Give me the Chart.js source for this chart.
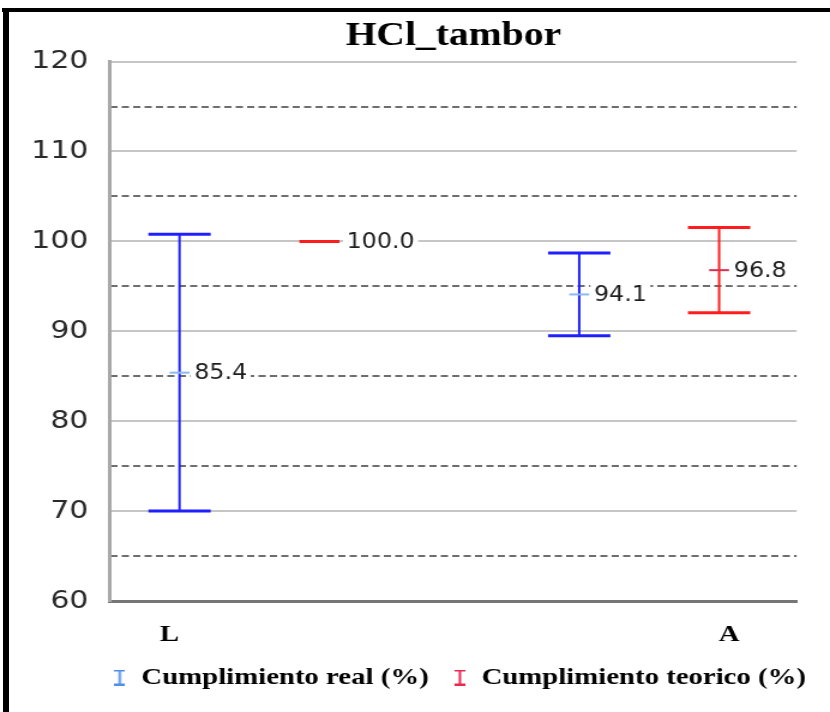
<!DOCTYPE html>
<html><head><meta charset="utf-8">
<script src="https://cdn.jsdelivr.net/npm/chart.js@4/dist/chart.umd.min.js"></script>
<style>
html,body{margin:0;padding:0;background:#fff;overflow:hidden;}
#wrap{position:absolute;left:0;top:0;width:692px;height:712px;transform:scaleX(1.1994);transform-origin:0 0;}
#frameTop{position:absolute;left:2px;top:8px;width:828px;height:4px;background:#000;}
#frameLeft{position:absolute;left:3px;top:8px;width:6px;height:704px;background:#000;}
</style></head><body>
<div id="wrap"><canvas id="c" width="692" height="712"></canvas></div>
<div id="frameTop"></div><div id="frameLeft"></div>
<script>
// ---- data ----
const categories = ['L', 'A'];
const seriesNames = ['Cumplimiento real (%)', 'Cumplimiento teorico (%)'];
const realValues = [85.4, 94.1];
const realErrors = [15.4, 4.6];
const theoValues = [100.0, 96.8];
const theoErrors = [0, 4.75];
const yMajorTicks = [60, 70, 80, 90, 100, 110, 120];
const yMinorTicks = [65, 75, 85, 95, 105, 115];
const chartTitle = 'HCl_tambor';

// ---- styles ----
const seriesStyles = [
  { offset: -0.175, color: '#1f1fff', meanColor: '#8ab8f2', iconColor: '#4f8fe6' },
  { offset: 0.175, color: '#ff1c1c', meanColor: '#d8304f', iconColor: '#e8284f' }
];
const capHalf = 26, meanHalf = 8.3, zeroHalf = 16.7;

function makeIcon(color) {
  const c = document.createElement('canvas');
  c.width = 9; c.height = 16;
  const g = c.getContext('2d');
  g.fillStyle = color;
  g.fillRect(3.5, 0, 2, 16);
  g.fillRect(0, 0, 9, 2);
  g.fillRect(0, 14, 9, 2);
  return c;
}
const icons = seriesStyles.map(s => makeIcon(s.iconColor));

const errorBarPlugin = {
  id: 'errorBars',
  afterDatasetsDraw(chart) {
    const { ctx } = chart;
    const x = chart.scales.x, y = chart.scales.y;
    const line = (x1, y1, x2, y2) => { ctx.beginPath(); ctx.moveTo(x1, y1); ctx.lineTo(x2, y2); ctx.stroke(); };
    chart.data.datasets.forEach((ds, di) => {
      const st = seriesStyles[di];
      ds.data.forEach(pt => {
        const cx = x.getPixelForValue(pt.x + st.offset);
        const yMid = y.getPixelForValue(pt.y);
        const yHi = y.getPixelForValue(pt.y + pt.err);
        const yLo = y.getPixelForValue(pt.y - pt.err);
        ctx.save();
        if (pt.err > 0) {
          ctx.strokeStyle = st.color; ctx.lineWidth = 2;
          line(cx, yHi, cx, yLo);
          ctx.lineWidth = 3;
          line(cx - capHalf, yHi, cx + capHalf, yHi);
          line(cx - capHalf, yLo, cx + capHalf, yLo);
          ctx.strokeStyle = st.meanColor; ctx.lineWidth = 2;
          line(cx - meanHalf, yMid, cx + meanHalf, yMid);
        } else {
          ctx.strokeStyle = st.color; ctx.lineWidth = 3;
          line(cx - zeroHalf, yMid, cx + zeroHalf, yMid);
        }
        const text = pt.y.toFixed(1);
        ctx.font = '22px "DejaVu Sans Condensed", "DejaVu Sans"';
        const tw = ctx.measureText(text).width;
        const tx = cx + (pt.err > 0 ? meanHalf + 4 : zeroHalf + 6);
        ctx.fillStyle = '#ffffff';
        ctx.fillRect(tx - 3, yMid - 15, tw + 6, 30);
        ctx.fillStyle = '#1e1e1e';
        ctx.textBaseline = 'middle';
        ctx.textAlign = 'left';
        ctx.fillText(text, tx, yMid + 1);
        ctx.restore();
      });
    });
  }
};

const datasets = [
  { label: seriesNames[0], data: realValues.map((v, i) => ({ x: i, y: v, err: realErrors[i] })) },
  { label: seriesNames[1], data: theoValues.map((v, i) => ({ x: i, y: v, err: theoErrors[i] })) }
].map(d => Object.assign(d, { pointRadius: 0, pointHoverRadius: 0, showLine: false }));

new Chart(document.getElementById('c'), {
  type: 'scatter',
  data: { datasets },
  plugins: [errorBarPlugin],
  options: {
    responsive: false,
    animation: false,
    events: [],
    devicePixelRatio: 1,
    layout: { padding: { left: 0, right: 0, top: 0, bottom: 12.5 } },
    plugins: {
      tooltip: { enabled: false },
      title: {
        display: true, text: chartTitle, fullSize: false,
        font: { family: 'Liberation Serif', size: 33, weight: 'bold' },
        color: '#000', padding: { top: 17, bottom: 5 }
      },
      legend: {
        position: 'bottom', fullSize: true, align: 'end',
        labels: {
          usePointStyle: true, pointStyleWidth: 12,
          font: { family: 'Liberation Serif', size: 24, weight: 'bold' },
          color: '#000', padding: 20,
          generateLabels: chart => chart.data.datasets.map((ds, i) => ({
            text: ds.label, pointStyle: icons[i], fillStyle: seriesStyles[i].iconColor,
            strokeStyle: seriesStyles[i].iconColor, lineWidth: 0, hidden: false, datasetIndex: i
          }))
        }
      }
    },
    scales: {
      x: {
        type: 'linear', min: -0.349, max: 1.369,
        afterBuildTicks: axis => { axis.ticks = categories.map((c, i) => ({ value: i + (i === 0 ? -0.2 : 0.2) })); },
        ticks: {
          callback: (v, i) => categories[i], autoSkip: false, maxRotation: 0,
          font: { family: 'Liberation Serif', size: 24, weight: 'bold' }, color: '#000', padding: 19
        },
        grid: { display: false, drawTicks: false },
        border: { color: '#767676', width: 3 },
        afterFit: axis => { axis.height = 44.5; }
      },
      y: {
        type: 'linear', position: 'left', min: 60, max: 120,
        afterBuildTicks: axis => { axis.ticks = yMajorTicks.map(v => ({ value: v })); },
        ticks: { font: { family: 'DejaVu Sans', size: 25 }, color: '#2a2a2a', padding: 18 },
        grid: { color: '#c6c6c6', lineWidth: 2, drawTicks: false },
        border: { color: '#a8a8a8', width: 3 },
        afterFit: axis => { axis.width = 91.7; }
      },
      y2: {
        type: 'linear', position: 'left', min: 60, max: 120,
        afterBuildTicks: axis => { axis.ticks = yMinorTicks.map(v => ({ value: v })); },
        ticks: { display: false },
        grid: { color: '#6e6e6e', lineWidth: 2, drawTicks: false },
        border: { display: false, dash: [6, 3.5] },
        afterFit: axis => { axis.width = 0; }
      },
      yRight: {
        type: 'linear', position: 'right', min: 60, max: 120,
        ticks: { display: false },
        grid: { display: false, drawTicks: false },
        border: { display: false },
        afterFit: axis => { axis.width = 27.8; }
      }
    }
  }
});
</script>
</body></html>
